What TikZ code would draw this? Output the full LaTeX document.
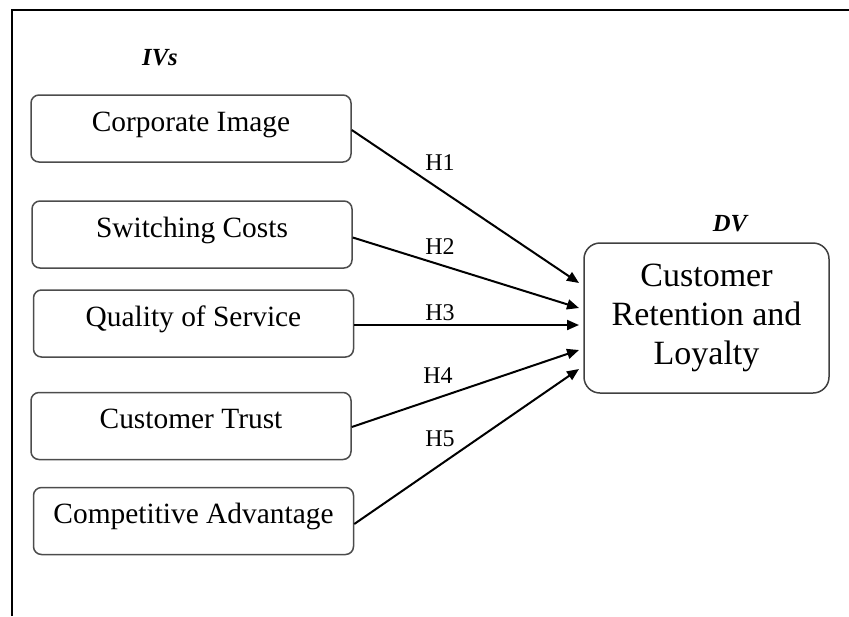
\documentclass[tikz,border=0pt]{standalone}
\usepackage{fontspec}
\setmainfont{Liberation Serif}
\usetikzlibrary{arrows.meta,calc}
\begin{document}
\begin{tikzpicture}[x=0.5pt,y=-0.5pt,
  ivbox/.style={draw=black!70,line width=0.75pt,rounded corners=4pt,
    minimum width=160pt,minimum height=33.5pt,inner sep=2pt,
    font=\fontsize{14.7pt}{17pt}\selectfont,text height=10pt,text depth=7.5pt},
  dvbox/.style={draw=black!75,line width=0.75pt,rounded corners=8pt,
    minimum width=122.5pt,minimum height=75pt,align=center,
    font=\fontsize{17pt}{19.5pt}\selectfont},
  hyp/.style={font=\fontsize{12pt}{14pt}\selectfont,inner sep=0pt},
  varlab/.style={font=\fontsize{12.3pt}{14pt}\selectfont\bfseries\itshape,inner sep=0pt},
  conn/.style={line width=1pt,-{Triangle[length=6pt,width=5pt]}}]
\useasboundingbox (0,0) rectangle (849,616);
\draw[line width=1pt] (12,616) -- (12,10) -- (849,10);
\node[varlab] (ivs) at (160,58) {IVs};
\node[varlab] (dvl) at (730,224) {DV};
\node[ivbox] (ci) at (191,128.5) {Corporate Image};
\node[ivbox] (sc) at (192,234.5) {Switching Costs};
\node[ivbox] (qs) at (193.5,323.5) {Quality of Service};
\node[ivbox] (ct) at (191,426) {Customer Trust};
\node[ivbox] (ca) at (193.5,521) {Competitive Advantage};
\node[dvbox] (dv) at (706.5,318) {Customer\\Retention and\\Loyalty};
\coordinate (e1) at (579,283);
\coordinate (e2) at (579,308);
\coordinate (e3) at (579,325);
\coordinate (e4) at (579,350);
\coordinate (e5) at (579,369);
\draw[conn] ($(ci.east)+(0,1.5)$) -- (e1);
\draw[conn] ($(sc.east)+(0,3)$) -- (e2);
\draw[conn] ($(qs.east)+(0,1.5)$) -- (e3);
\draw[conn] ($(ct.east)+(0,1)$) -- (e4);
\draw[conn] ($(ca.east)+(0,3)$) -- (e5);
\node[hyp] (h1) at (440,163) {H1};
\node[hyp] (h2) at (440,247) {H2};
\node[hyp] (h3) at (440,313) {H3};
\node[hyp] (h4) at (438,376) {H4};
\node[hyp] (h5) at (440,439) {H5};
\end{tikzpicture}
\end{document}
